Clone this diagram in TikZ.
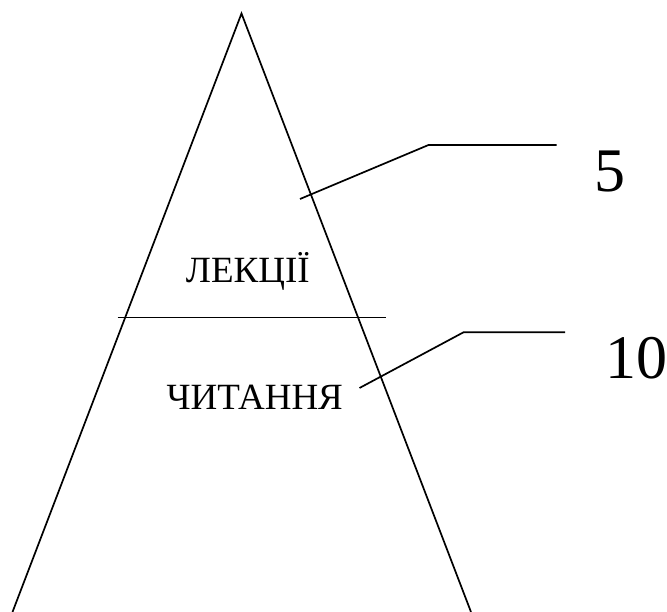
\documentclass[tikz,border=0pt]{standalone}
\usepackage{fontspec}
\setmainfont{Liberation Serif}
\begin{document}
\begin{tikzpicture}[x=1pt,y=-1pt,
  ln/.style={line width=1.7pt,line join=miter},
  lbl/.style={font=\fontsize{37}{40}\selectfont,anchor=base,inner sep=0pt},
  num/.style={font=\fontsize{62}{66}\selectfont,anchor=base,inner sep=0pt}]
\useasboundingbox (0,0) rectangle (667,612);
% triangle
\coordinate (apex) at (241.5,13.5);
\coordinate (bl) at (12.5,612);
\coordinate (br) at (471,612);
\draw[ln] (bl) -- (apex) -- (br);
% dividing line
\coordinate (hl) at (117.5,317.5);
\coordinate (hr) at (385.5,317.5);
\draw[ln] (hl) -- (hr);
% texts
\node[lbl] (lek) at (247.8,282.3) {ЛЕКЦІЇ};
\node[lbl] (chyt) at (254.7,409.3) {ЧИТАННЯ};
\node[num] (n5) at (609.5,191.7) {5};
\node[num] (n10) at (636,378.3) {10};
% leaders
\coordinate (a1) at (300,199);
\coordinate (b1) at (428.5,145);
\coordinate (c1) at (556.5,145);
\draw[ln] (a1) -- (b1) -- (c1);
\coordinate (a2) at (359.5,388);
\coordinate (b2) at (463.5,332.3);
\coordinate (c2) at (565,332.3);
\draw[ln] (a2) -- (b2) -- (c2);
\end{tikzpicture}
\end{document}
